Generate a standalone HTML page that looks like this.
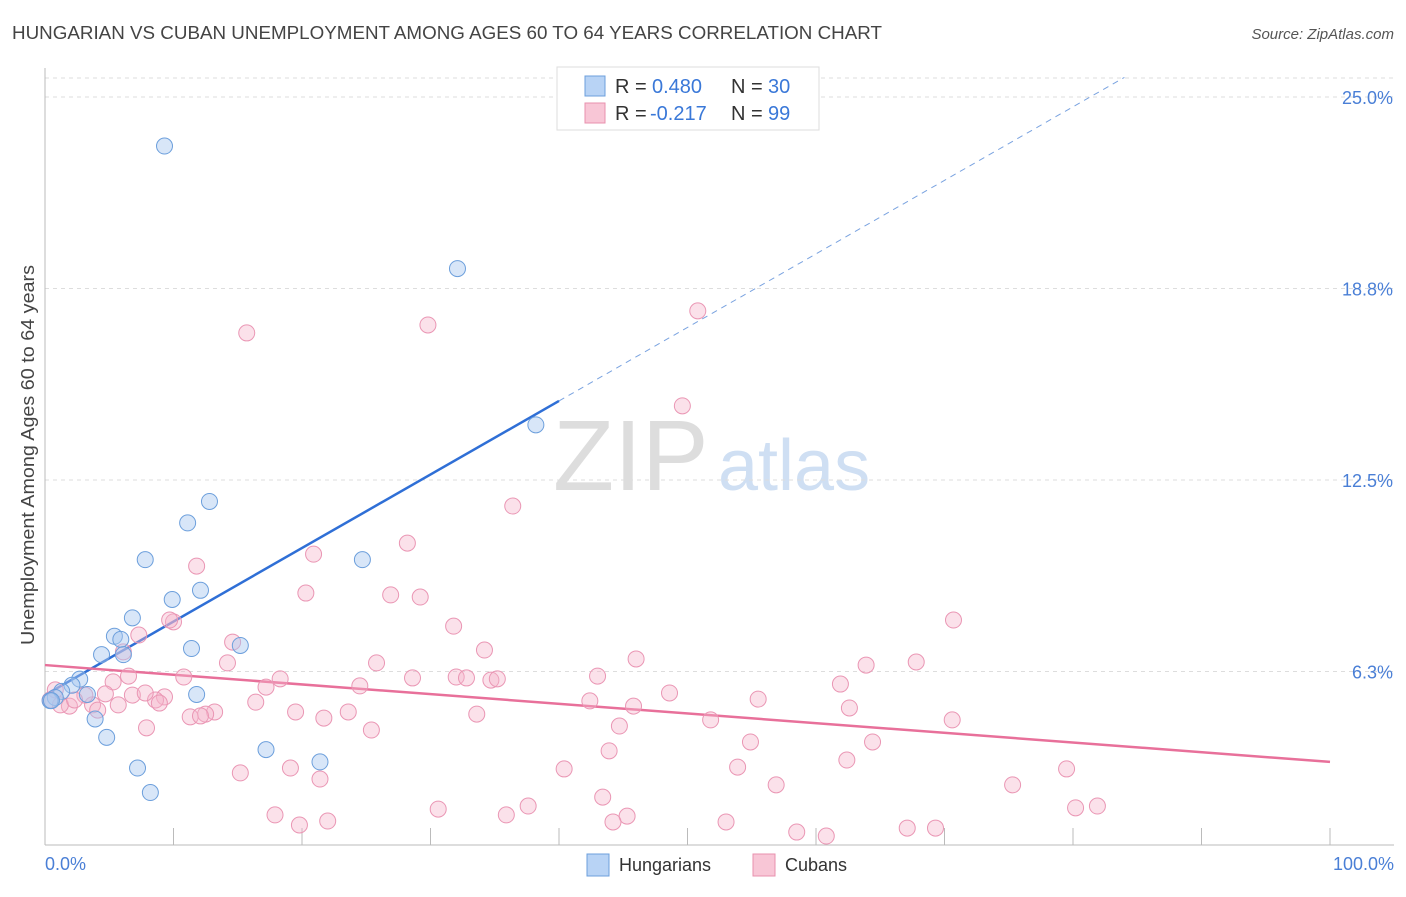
<!DOCTYPE html>
<html><head><meta charset="utf-8"><style>
body{margin:0;background:#fff;font-family:"Liberation Sans",sans-serif;}
svg text{font-family:"Liberation Sans",sans-serif;}
</style></head><body>
<svg id="chart" width="1406" height="892" xmlns="http://www.w3.org/2000/svg">
<text x="12" y="39" font-size="18.6" fill="#444" textLength="870" lengthAdjust="spacingAndGlyphs">HUNGARIAN VS CUBAN UNEMPLOYMENT AMONG AGES 60 TO 64 YEARS CORRELATION CHART</text>
<text x="1394" y="39" font-size="15" fill="#555" text-anchor="end" font-style="italic">Source: ZipAtlas.com</text>
<g>
<text x="553" y="490" font-size="100" font-family="Liberation Serif" fill="#ddd">ZIP</text>
<text x="718" y="490" font-size="72" fill="#cfdff3">atlas</text>
</g>
<g id="grid"></g><g id="axes"></g><g id="lines"></g><g id="pts"></g>
<text transform="translate(34,455) rotate(-90)" font-size="18" fill="#444" text-anchor="middle" textLength="380" lengthAdjust="spacingAndGlyphs">Unemployment Among Ages 60 to 64 years</text>
<text x="45" y="870" font-size="18" fill="#4a7fd6">0.0%</text>
<text x="1394" y="870" font-size="18" fill="#4a7fd6" text-anchor="end">100.0%</text>
<g>
<rect x="557" y="67" width="262" height="63" fill="#fff" stroke="#ddd"/>
<rect x="585" y="76" width="20" height="20" fill="#b8d3f5" stroke="#6c9fdc"/>
<rect x="585" y="103" width="20" height="20" fill="#f8c6d6" stroke="#e890ae"/>
<text x="615" y="93" font-size="20" fill="#333">R =</text>
<text x="652" y="93" font-size="20" fill="#3a78d8">0.480</text>
<text x="731" y="93" font-size="20" fill="#333">N =</text>
<text x="768" y="93" font-size="20" fill="#3a78d8">30</text>
<text x="615" y="120" font-size="20" fill="#333">R =</text>
<text x="650" y="120" font-size="20" fill="#3a78d8">-0.217</text>
<text x="731" y="120" font-size="20" fill="#333">N =</text>
<text x="768" y="120" font-size="20" fill="#3a78d8">99</text>
</g>
<g>
<rect x="587" y="854" width="22" height="22" fill="#b8d3f5" stroke="#6c9fdc"/>
<text x="619" y="871" font-size="18" fill="#333">Hungarians</text>
<rect x="753" y="854" width="22" height="22" fill="#f8c6d6" stroke="#e890ae"/>
<text x="785" y="871" font-size="18" fill="#333">Cubans</text>
</g>
</svg>
<script>
const yTicks=[6.3,12.5,18.8,25.0];
const yTickLabels=["6.3%","12.5%","18.8%","25.0%"];
const hungX=[9.3,32.1,38.2,12.8,11.1,7.8,24.7,12.1,9.9,6.8,5.4,5.9,6.1,15.2,11.4,4.4,2.7,2.1,1.3,3.3,11.8,0.8,0.4,3.9,4.8,17.2,21.4,7.2,8.2,0.5];
const hungY=[23.4,19.4,14.3,11.8,11.1,9.9,9.9,8.9,8.6,8.0,7.4,7.3,6.8,7.1,7.0,6.8,6.0,5.8,5.6,5.5,5.5,5.4,5.3,4.7,4.1,3.7,3.3,3.1,2.3,5.3];
const cubPx=[[247,333],[428,325],[698,311],[682,406],[513,506],[407,543],[314,554],[197,566],[306,593],[391,595],[420,597],[954,620],[173,622],[454,626],[139,635],[233,642],[485,650],[124,652],[636,659],[916,662],[376,663],[227,663],[866,665],[184,677],[598,676],[113,682],[128,676],[280,679],[412,678],[456,677],[467,678],[491,680],[497,679],[266,687],[360,686],[840,684],[670,693],[133,695],[105,694],[165,697],[155,700],[160,703],[590,701],[758,699],[256,702],[93,705],[69,706],[633,706],[849,708],[296,712],[214,712],[205,714],[190,717],[200,716],[324,718],[348,712],[477,714],[710,720],[952,720],[146,728],[371,730],[620,726],[750,742],[873,742],[609,751],[240,773],[290,768],[320,779],[564,769],[738,767],[847,760],[1066,769],[776,785],[1012,785],[603,797],[528,806],[438,809],[275,815],[1075,808],[1097,806],[506,815],[627,816],[300,825],[328,821],[613,822],[726,822],[797,832],[826,836],[907,828],[935,828],[55,690],[50,700],[60,705],[85,695],[75,700],[118,705],[98,710],[145,693],[170,620]];
const cubX=cubPx.map(p=>+((p[0]-45)/12.85).toFixed(1));
const cubY=cubPx.map(p=>+((863-p[1])/30.64).toFixed(2));
const hungTrend=[5.48,0.24];
const cubTrend=[6.46,-0.0316];
const NS="http://www.w3.org/2000/svg";
const sx=v=>45+v*12.85, sy=v=>863-v*30.64;
function mk(t,a,p){const e=document.createElementNS(NS,t);for(const k in a)e.setAttribute(k,a[k]);document.getElementById(p).appendChild(e);return e;}
let g=mk('line',{x1:45,x2:1394,y1:78,y2:78,stroke:'#ddd','stroke-dasharray':'4,4'},'grid');


yTicks.forEach((t,i)=>{
 const y=sy(t===25?25:t===18.8?18.75:t===12.5?12.5:6.25);
 const l=mk('line',{x1:45,x2:1394,y1:y,y2:y,stroke:'#ddd','stroke-dasharray':'4,4'},'grid');
 
 
 const tx=mk('text',{x:1393,y:y+7,'font-size':18,fill:'#4a7fd6','text-anchor':'end'},'grid');
 tx.textContent=yTickLabels[i];
 
 
});
let ax=mk('line',{x1:45,x2:45,y1:68,y2:845,stroke:'#bbb'},'axes');


ax=mk('line',{x1:45,x2:1394,y1:845,y2:845,stroke:'#bbb'},'axes');


for(let i=0;i<=10;i++){const x=sx(i*10);const t=mk('line',{x1:x,x2:x,y1:828,y2:845,stroke:'#bbb'},'axes');
 
 }
let ln=mk('line',{x1:sx(0),y1:sy(hungTrend[0]),x2:sx(40),y2:sy(hungTrend[0]+40*hungTrend[1]),stroke:'#2f6fd6','stroke-width':2.5},'lines');


ln=mk('line',{x1:sx(40),y1:sy(hungTrend[0]+40*hungTrend[1]),x2:sx(84),y2:sy(hungTrend[0]+84*hungTrend[1]),stroke:'#7aa3e0','stroke-width':1,'stroke-dasharray':'6,5'},'lines');


ln=mk('line',{x1:sx(0),y1:sy(cubTrend[0]),x2:sx(100),y2:sy(cubTrend[0]+100*cubTrend[1]),stroke:'#e8709a','stroke-width':2.5},'lines');


cubX.forEach((x,i)=>{const c=mk('circle',{cx:sx(x),cy:sy(cubY[i]),r:8,fill:'rgba(246,180,202,0.4)',stroke:'#ea96b4','stroke-width':1},'pts');
 
 });
hungX.forEach((x,i)=>{const c=mk('circle',{cx:sx(x),cy:sy(hungY[i]),r:8,fill:'rgba(168,200,240,0.45)',stroke:'#6c9fdc','stroke-width':1},'pts');
 
 });
</script>
</body></html>
